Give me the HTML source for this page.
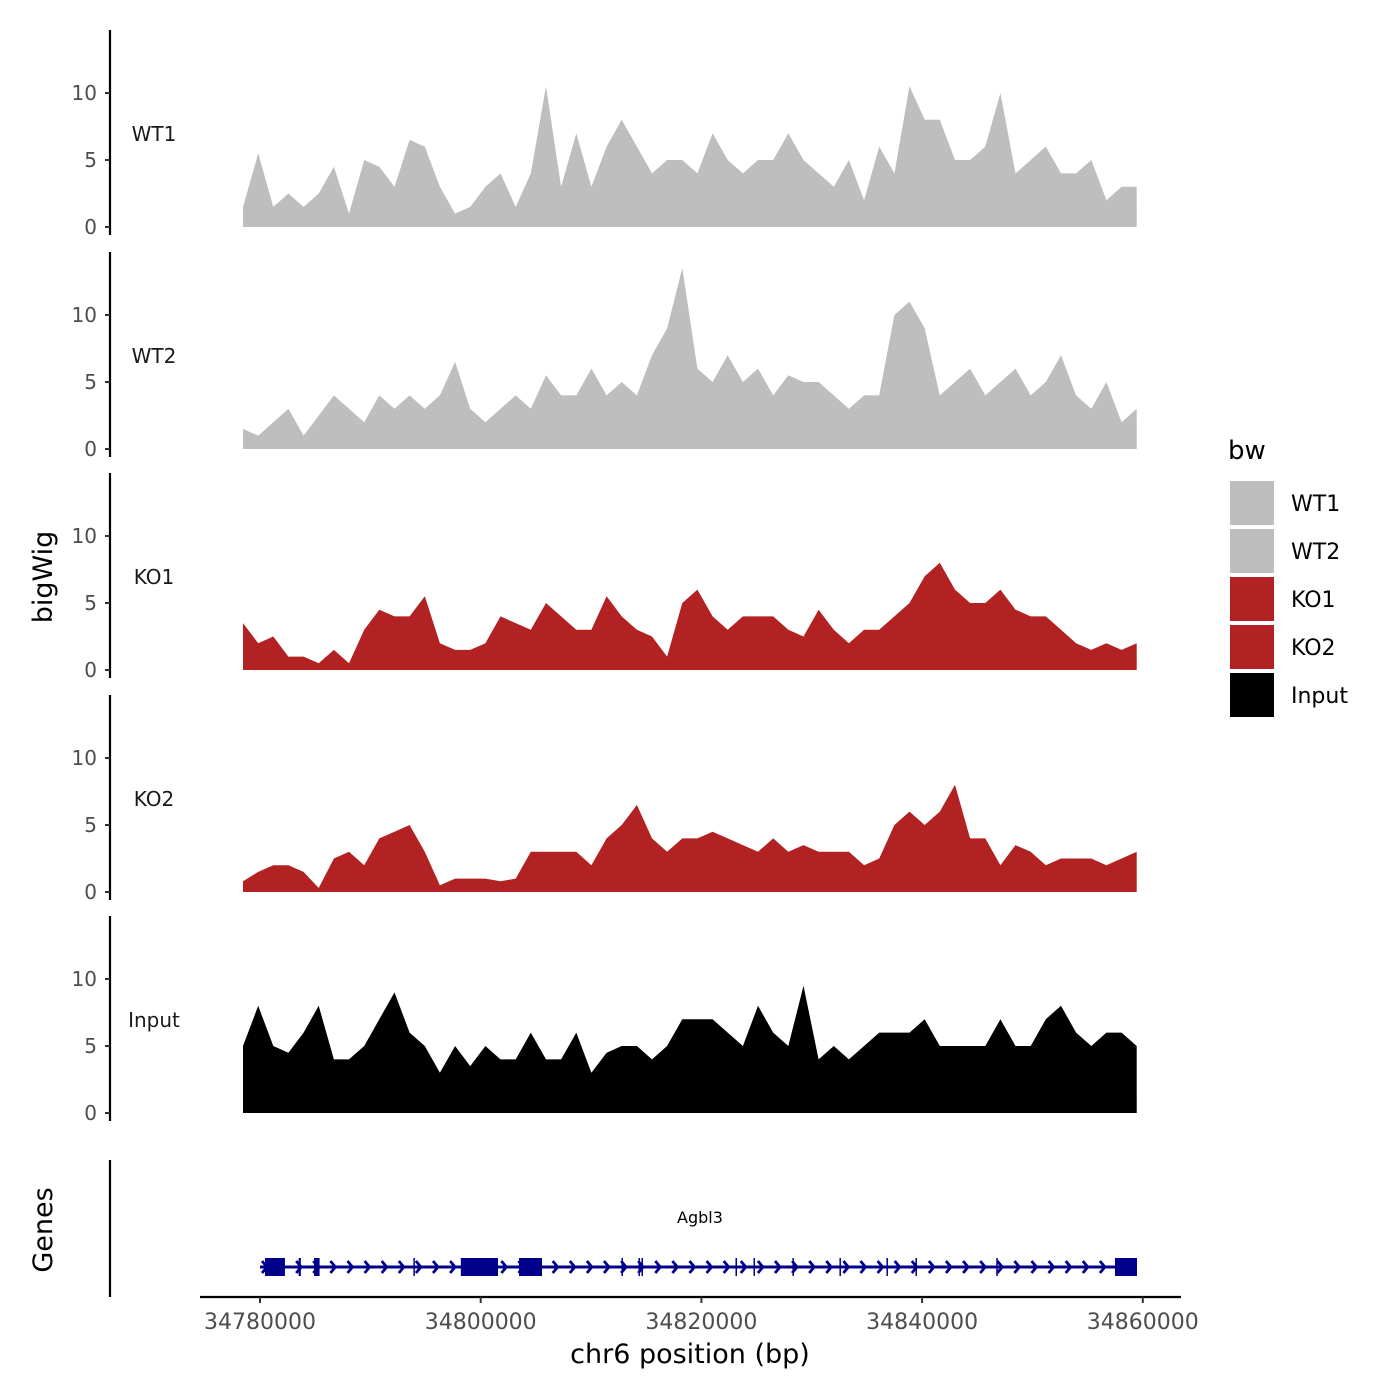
<!DOCTYPE html>
<html><head><meta charset="utf-8"><style>
body{margin:0;background:#fff}
svg{display:block;font-family:"DejaVu Sans","Liberation Sans",sans-serif}
</style></head><body>
<svg id="c" width="1400" height="1400" viewBox="0 0 1400 1400" xmlns="http://www.w3.org/2000/svg"></svg>
<script>
const trackNames=["WT1","WT2","KO1","KO2","Input"];
const trackColors=["#bebebe","#bebebe","#b22222","#b22222","#000000"];
const wt1=[1.5,5.5,1.5,2.5,1.5,2.5,4.5,1,5,4.5,3,6.5,6,3,1,1.5,3,4,1.5,4,10.5,3,7,3,6,8,6,4,5,5,4,7,5,4,5,5,7,5,4,3,5,2,6,4,10.5,8,8,5,5,6,10,4,5,6,4,4,5,2,3,3];
const wt2=[1.5,1,2,3,1,2.5,4,3,2,4,3,4,3,4,6.5,3,2,3,4,3,5.5,4,4,6,4,5,4,7,9,13.5,6,5,7,5,6,4,5.5,5,5,4,3,4,4,10,11,9,4,5,6,4,5,6,4,5,7,4,3,5,2,3];
const ko1=[3.5,2,2.5,1,1,0.5,1.5,0.5,3,4.5,4,4,5.5,2,1.5,1.5,2,4,3.5,3,5,4,3,3,5.5,4,3,2.5,1,5,6,4,3,4,4,4,3,2.5,4.5,3,2,3,3,4,5,7,8,6,5,5,6,4.5,4,4,3,2,1.5,2,1.5,2];
const ko2=[0.8,1.5,2,2,1.5,0.3,2.5,3,2,4,4.5,5,3,0.5,1,1,1,0.8,1,3,3,3,3,2,4,5,6.5,4,3,4,4,4.5,4,3.5,3,4,3,3.5,3,3,3,2,2.5,5,6,5,6,8,4,4,2,3.5,3,2,2.5,2.5,2.5,2,2.5,3];
const inp=[5,8,5,4.5,6,8,4,4,5,7,9,6,5,3,5,3.5,5,4,4,6,4,4,6,3,4.5,5,5,4,5,7,7,7,6,5,8,6,5,9.5,4,5,4,5,6,6,6,7,5,5,5,5,7,5,5,7,8,6,5,6,6,5];
const series=[wt1,wt2,ko1,ko2,inp];
const yTicks=[0,5,10];
const xTicks=[34780000,34800000,34820000,34840000,34860000];
const dataStart=34778460, dataEnd=34859450;
const exons=[[34780450,34782260],[34783500,34783700],[34784900,34785400],[34793900,34794000],[34798200,34799212],[34799212,34801568],[34803470,34805555],[34812760,34812860],[34814300,34814400],[34814570,34814670],[34823090,34823190],[34824720,34824820],[34828250,34828350],[34832510,34832610],[34836770,34836870],[34839400,34839500],[34846720,34846860],[34857480,34859474]];
const geneStart=34780000, geneEnd=34859474;

const NS="http://www.w3.org/2000/svg";
const svg=document.getElementById('c');
function el(t,a,p){const e=document.createElementNS(NS,t);for(const k in a)e.setAttribute(k,a[k]);(p||svg).appendChild(e);return e;}
const xS=v=>260+(v-34780000)*0.011035;
const panelZero=[227,449,670,892,1113];
const yS=(i,v)=>panelZero[i]-v*13.4;

series.forEach((vals,i)=>{
  const g=el('g',{});
  
  
  const n=vals.length, step=(dataEnd-dataStart)/(n-1);
  let pts=xS(dataStart)+','+panelZero[i]+' ';
  vals.forEach((v,j)=>{pts+=xS(dataStart+j*step).toFixed(1)+','+yS(i,v).toFixed(1)+' ';});
  pts+=xS(dataEnd)+','+panelZero[i];
  const p=el('polygon',{points:pts,fill:trackColors[i]},g);
  
  
  const ax=el('line',{x1:110,x2:110,y1:panelZero[i]-197,y2:panelZero[i]+8,stroke:'#000','stroke-width':2.2},g);
  
  
  yTicks.forEach(t=>{
    const y=yS(i,t);
    el('line',{x1:105,x2:110,y1:y,y2:y,stroke:'#333','stroke-width':2},g);
    const tx=el('text',{x:97,y:y+7,'text-anchor':'end','font-size':20,fill:'#4d4d4d'},g);
    tx.textContent=t;
    
    
  });
  const lb=el('text',{x:154,y:panelZero[i]-86,'text-anchor':'middle','font-size':20,fill:'#1a1a1a'},g);
  lb.textContent=trackNames[i];
  
  
});

// gene panel
const gg=el('g',{});


el('line',{x1:110,x2:110,y1:1160,y2:1297,stroke:'#000','stroke-width':2.2},gg);
el('line',{x1:xS(geneStart),x2:xS(geneEnd),y1:1267,y2:1267,stroke:'#00008b','stroke-width':3},gg);
for(let x=xS(geneStart)+5;x<xS(geneEnd)-5;x+=17.1){
  el('polyline',{points:`${x-3},1261 ${x+2},1267 ${x-3},1273`,fill:'none',stroke:'#00008b','stroke-width':2.8},gg);
}
exons.forEach(e=>{
  const w=Math.max(1.5,xS(e[1])-xS(e[0]));
  const r=el('rect',{x:xS(e[0]),y:1258,width:w,height:18,fill:'#00008b'},gg);
  
  
});
const gl=el('text',{x:700,y:1223,'text-anchor':'middle','font-size':16,fill:'#000'},gg);
gl.textContent='Agbl3';



// x axis
const xa=el('g',{});


el('line',{x1:200,x2:1181,y1:1297,y2:1297,stroke:'#000','stroke-width':2.2},xa);
xTicks.forEach(t=>{
  const x=xS(t);
  el('line',{x1:x,x2:x,y1:1297,y2:1303,stroke:'#333','stroke-width':2},xa);
  const tx=el('text',{x:x,y:1329,'text-anchor':'middle','font-size':22,fill:'#4d4d4d'},xa);
  tx.textContent=t;
  
  
});
const xt=el('text',{x:690,y:1363,'text-anchor':'middle','font-size':27,fill:'#000'});
xt.textContent='chr6 position (bp)';


const yt=el('text',{x:0,y:0,'text-anchor':'middle','font-size':27,fill:'#000',transform:'translate(52,577) rotate(-90)'});
yt.textContent='bigWig';


const gt=el('text',{x:0,y:0,'text-anchor':'middle','font-size':27,fill:'#000',transform:'translate(52,1230) rotate(-90)'});
gt.textContent='Genes';



// legend
const lg=el('g',{});


const lt=el('text',{x:1228,y:459,'font-size':26,fill:'#000'},lg);
lt.textContent='bw';
const legNames=["WT1","WT2","KO1","KO2","Input"];
legNames.forEach((n,i)=>{
  const y=481+i*48;
  const r=el('rect',{x:1230,y:y,width:44,height:44,fill:trackColors[i]},lg);
  
  
  const t=el('text',{x:1291,y:y+30,'font-size':22,fill:'#000'},lg);
  t.textContent=n;
  
  
});
</script>
</body></html>
